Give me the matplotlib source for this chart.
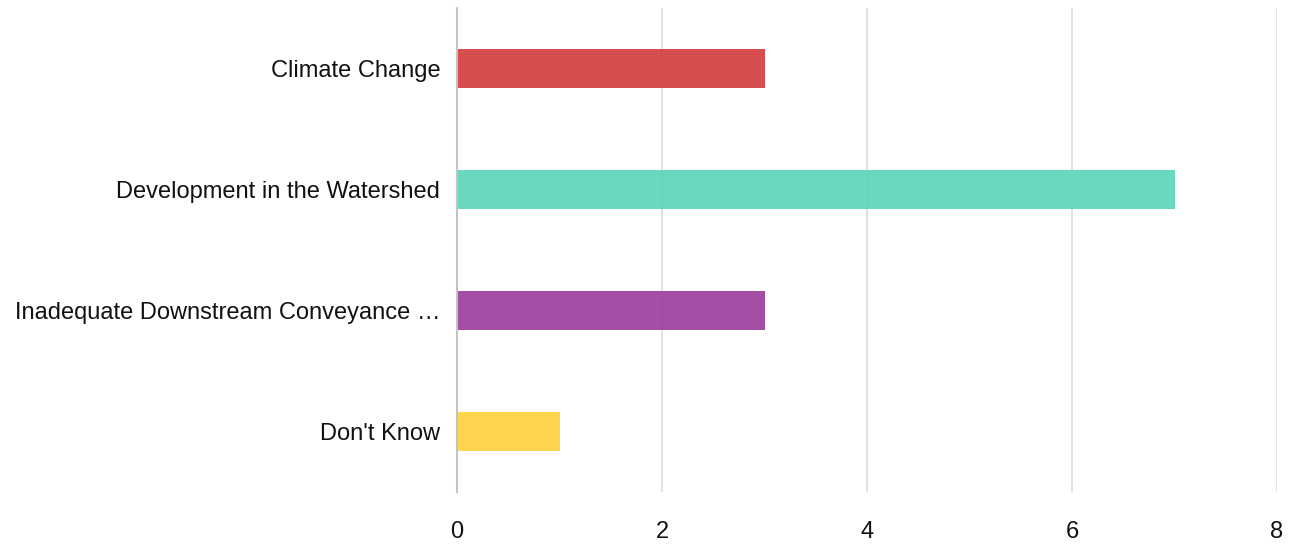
import matplotlib
matplotlib.use("Agg")
import matplotlib.pyplot as plt

categories = ["Climate Change", "Development in the Watershed",
              "Inadequate Downstream Conveyance …", "Don't Know"]
values = [3, 7, 3, 1]
colors = ["#d43f3f", "#5cd5bb", "#9c3f9e", "#ffd23f"]
xticks = [0, 2, 4, 6, 8]

plt.rcParams['font.family'] = ['Liberation Sans', 'DejaVu Sans']

fig = plt.figure(figsize=(12.94, 5.48), dpi=100)
ax = fig.add_axes([457/1294, 1-492/548, (1277-457)/1294, (492-8)/548])

ypos = list(range(len(categories)))
ax.barh(ypos, values, height=0.33, color=colors, alpha=0.92, zorder=3)
ax.set_ylim(len(categories)-0.5, -0.5)
ax.set_xlim(0, 8)
ax.set_xticks(xticks)
ax.set_xticklabels([str(t) for t in xticks])
ax.set_yticks(ypos)
ax.set_yticklabels(categories)
ax.grid(axis='x', color='#dcdcdc', linewidth=1.2, zorder=0)
for s in ['top', 'right', 'bottom']:
    ax.spines[s].set_visible(False)
ax.spines['left'].set_color('#c4c4c4')
ax.spines['left'].set_linewidth(1.5)
ax.spines['left'].set_zorder(4)
ax.tick_params(axis='both', length=0, labelsize=17, colors='#111111')
ax.tick_params(axis='x', pad=21)
ax.tick_params(axis='y', pad=12)

fig.savefig("out.png", dpi=100)
